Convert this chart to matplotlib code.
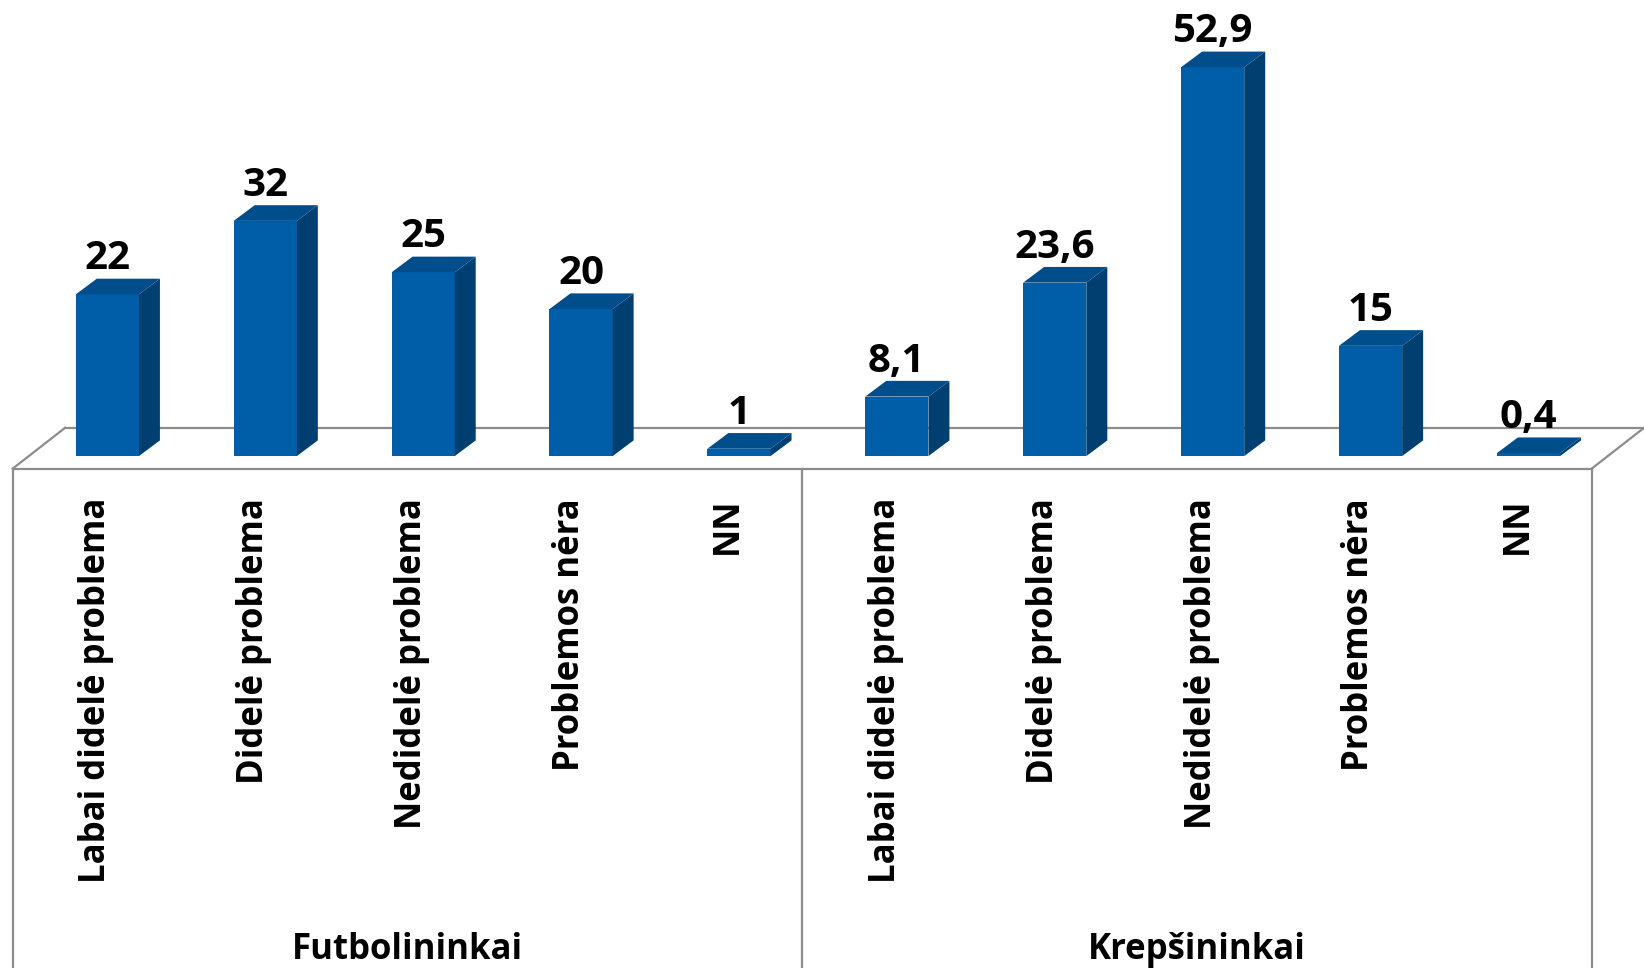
import matplotlib
matplotlib.use("Agg")
import matplotlib.pyplot as plt
from matplotlib.patches import Polygon

# data
groups = ["Futbolininkai", "Krepšininkai"]
categories = ["Labai didelė problema", "Didelė problema", "Nedidelė problema",
              "Problemos nėra", "NN"]
futbol = [22, 32, 25, 20, 1]
krepsin = [8.1, 23.6, 52.9, 15, 0.4]
value_labels = ["22", "32", "25", "20", "1", "8,1", "23,6", "52,9", "15", "0,4"]

FRONT = "#005EA8"
SIDE = "#003F70"
TOP = "#004D8C"
GRID = "#8C8C8C"
FONT = "Open Sans"

W, H = 1644, 968
fig = plt.figure(figsize=(W / 100, H / 100), dpi=100)
ax = fig.add_axes([0, 0, 1, 1])
ax.axis("off")

# pixel scale of the original picture -> data units
px_slot = 157.9      # pixels per category slot
px_unit = 7.35       # pixels per percent
x0_px, base_px = 12.6, 456.1
ax.set_xlim(-x0_px / px_slot, (W - x0_px) / px_slot)
ax.set_ylim(-(H - base_px) / px_unit, base_px / px_unit)

dx = 21 / px_slot      # depth offset
dy = 15.7 / px_unit
floor_front = -12.6 / px_unit
floor_back = 28.3 / px_unit
floor_dx = 52.5 / px_slot
n = len(categories) * len(groups)

# floor outline
ax.plot([floor_dx, n + floor_dx + 1], [floor_back, floor_back], color=GRID, lw=1.6, zorder=1)
ax.plot([0, floor_dx], [floor_front, floor_back], color=GRID, lw=1.6, zorder=1)
ax.plot([n, n + floor_dx], [floor_front, floor_back], color=GRID, lw=1.6, zorder=1)
ax.plot([0, n], [floor_front, floor_front], color=GRID, lw=1.6, zorder=1)
bottom = ax.get_ylim()[0]
for xv in [0, len(categories), n]:
    ax.plot([xv, xv], [floor_front, bottom], color=GRID, lw=1.6, zorder=1)

values = futbol + krepsin
xs = [i + 0.4 for i in range(n)]
bw = 0.4
ax.bar(xs, values, width=bw, bottom=0, align="edge", color=FRONT, zorder=3, linewidth=0)
for x, v, lab in zip(xs, values, value_labels):
    x1 = x + bw
    ax.add_patch(Polygon([(x1, 0), (x1 + dx, dy), (x1 + dx, v + dy), (x1, v)],
                         closed=True, color=SIDE, lw=0, zorder=3))
    ax.add_patch(Polygon([(x, v), (x1, v), (x1 + dx, v + dy), (x + dx, v + dy)],
                         closed=True, color=TOP, lw=0, zorder=3))
    ax.text(x + bw / 2, v + 3.4, lab, ha="center", va="baseline",
            fontsize=29, fontweight="bold", family=FONT, zorder=4)

# category labels
for g in range(len(groups)):
    for j, cat in enumerate(categories):
        i = g * len(categories) + j
        ax.text(i + 0.53, -5.7, cat, rotation=90, ha="center", va="top",
                fontsize=25, fontweight="bold", family=FONT)
    ax.text(g * len(categories) + len(categories) / 2, -67.2, groups[g],
            ha="center", va="center", fontsize=25, fontweight="bold", family=FONT)

fig.savefig("out.png", dpi=100)
